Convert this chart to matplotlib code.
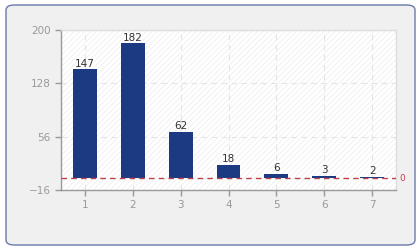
import matplotlib
matplotlib.use("Agg")
import matplotlib.pyplot as plt
from matplotlib.patches import FancyBboxPatch

categories = [1, 2, 3, 4, 5, 6, 7]
values = [147, 182, 62, 18, 6, 3, 2]
y_ticks = [-16, 56, 128, 200]
baseline = 0

BAR_COLOR = "#1b3a82"
TICK_COLOR = "#999999"

fig = plt.figure(figsize=(4.2, 2.5), dpi=100)
fig.patch.set_facecolor("white")

# Rounded panel behind the chart
panel = FancyBboxPatch(
    (6 / 420, 5 / 250), 409 / 420, 240 / 250,
    boxstyle="round,pad=0,rounding_size=0.02",
    transform=fig.transFigure, facecolor="#f0f0f0",
    edgecolor="#6a7aa8", linewidth=1.0, zorder=-5,
)
fig.patches.append(panel)

ax = fig.add_axes([61 / 420, 1 - 190 / 250, 335 / 420, 160 / 250])
ax.set_zorder(2)
ax.set_facecolor("white")

# Faint diagonal hatch over the plot area
plt.rcParams["hatch.linewidth"] = 0.5
ax.fill_between([0.5, 7.5], -16, 200, facecolor="none", edgecolor="#ececec",
                hatch="//////", linewidth=0, zorder=0)

ax.bar(categories, values, width=0.5, color=BAR_COLOR, zorder=3)

for x, v in zip(categories, values):
    ax.text(x, v + 1, str(v), ha="center", va="bottom", fontsize=7.5,
            color="#333333", zorder=4)

ax.axhline(baseline, color="#c0404a", linestyle=(0, (4, 3)), linewidth=1.0, zorder=4)
ax.text(7.58, baseline, "0", color="#c0404a", fontsize=6.5, va="center", ha="left")

ax.set_xlim(0.5, 7.5)
ax.set_ylim(-16, 200)
ax.set_xticks(categories)
ax.set_yticks(y_ticks)
ax.grid(True, color="#e4e4e4", linestyle=(0, (5, 4)), linewidth=0.8, zorder=1)
ax.set_axisbelow(True)

ax.tick_params(colors=TICK_COLOR, labelsize=7.5, length=4, width=1)
for side in ["left", "bottom"]:
    ax.spines[side].set_color(TICK_COLOR)
    ax.spines[side].set_linewidth(1.0)
for side in ["top", "right"]:
    ax.spines[side].set_color("#dddddd")
    ax.spines[side].set_linewidth(1.0)

fig.savefig("out.png", dpi=100)
